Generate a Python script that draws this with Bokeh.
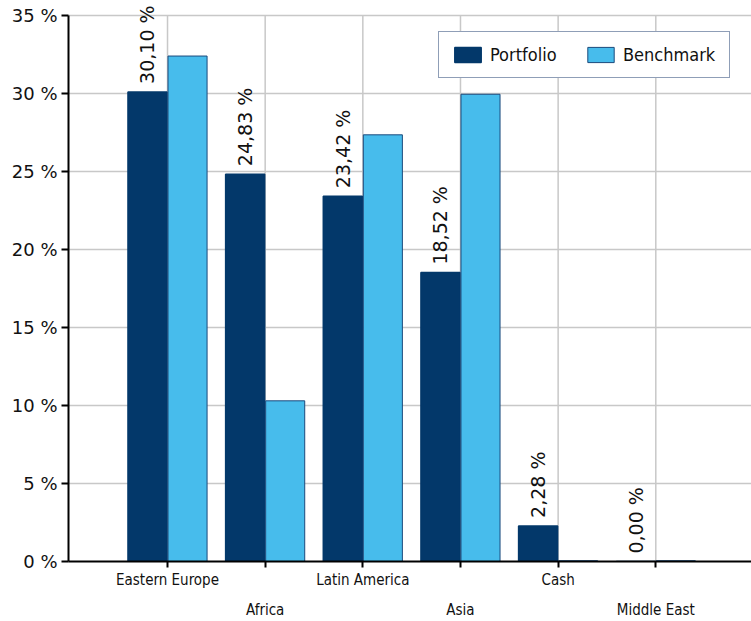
import math
from bokeh.plotting import figure
from bokeh.models import (ColumnDataSource, Range1d, FixedTicker, LinearAxis,
                          PrintfTickFormatter, LabelSet, Legend, LegendItem)
from bokeh.core.properties import value
from bokeh.transform import dodge
from bokeh.embed import file_html
from bokeh.resources import INLINE

categories = ["Eastern Europe", "Africa", "Latin America", "Asia", "Cash", "Middle East"]
portfolio = [30.10, 24.83, 23.42, 18.52, 2.28, 0.00]
benchmark = [32.4, 10.3, 27.35, 29.95, 0.05, 0.05]
y_ticks = [0, 5, 10, 15, 20, 25, 30, 35]

PORT_COLOR = "#03386A"
BENCH_COLOR = "#47BCEC"

xs = list(range(len(categories)))
labels = [("%.2f %%" % v).replace(".", ",") for v in portfolio]
src = ColumnDataSource(dict(x=xs, portfolio=portfolio, benchmark=benchmark, lbl=labels,
                            g0=[y_ticks[0]] * len(xs), g1=[y_ticks[-1]] * len(xs)))

y_top = y_ticks[-1] + 0.96
p = figure(width=751, height=621, output_backend="svg", toolbar_location=None,
           x_range=Range1d(-1.014, 5.98), y_range=Range1d(0, y_top),
           min_border_left=68, min_border_top=0, min_border_right=0,
           min_border_bottom=60)
p.outline_line_color = None
p.background_fill_color = "white"

# vertical grid lines at category centres, from 0 to top tick
p.segment(x0="x", x1="x", y0="g0", y1="g1", source=src,
          line_color="#c8c8c8", line_width=1.5, level="underlay")

r1 = p.vbar(x=dodge("x", -0.205, range=p.x_range), top="portfolio", width=0.40,
            source=src, fill_color=PORT_COLOR, line_color=PORT_COLOR, line_width=1.5)
r2 = p.vbar(x=dodge("x", 0.205, range=p.x_range), top="benchmark", width=0.40,
            source=src, fill_color=BENCH_COLOR, line_color="#1B4A7C", line_width=1)

ls = LabelSet(x=dodge("x", -0.205, range=p.x_range), y="portfolio", text="lbl", source=src,
              angle=math.pi / 2, y_offset=8, x_offset=0, text_align="left",
              text_baseline="middle", text_font=value("DejaVu Sans"),
              text_font_size=value("19px"), text_color="#111111")
p.add_layout(ls)

# y axis
p.yaxis.ticker = FixedTicker(ticks=y_ticks)
p.yaxis.bounds = (y_ticks[0], y_ticks[-1])
p.yaxis.formatter = PrintfTickFormatter(format="%d %%")
p.yaxis.major_label_text_font = "DejaVu Sans"
p.yaxis.major_label_text_font_size = "18px"
p.yaxis.major_label_text_color = "#111111"
p.yaxis.axis_line_width = 2
p.yaxis.axis_line_color = "black"
p.yaxis.major_tick_line_width = 2
p.yaxis.major_tick_out = 7
p.yaxis.major_tick_in = 0
p.yaxis.minor_tick_line_color = None
p.yaxis.major_label_standoff = 4

# x axis (row 1)
xa = p.xaxis[0]
xa.ticker = FixedTicker(ticks=xs)
xa.major_label_overrides = {i: (c if i % 2 == 0 else "") for i, c in enumerate(categories)}
xa.major_label_text_font = "DejaVu Sans Condensed"
xa.major_label_text_font_size = "15px"
xa.major_label_text_color = "#111111"
xa.axis_line_width = 2
xa.axis_line_color = "black"
xa.major_tick_line_width = 2
xa.major_tick_out = 6
xa.major_tick_in = 0
xa.minor_tick_line_color = None
xa.major_label_standoff = 3

# x axis (row 2)
xa2 = LinearAxis(ticker=FixedTicker(ticks=xs))
xa2.major_label_overrides = {i: (c if i % 2 == 1 else "") for i, c in enumerate(categories)}
xa2.major_label_text_font = "DejaVu Sans Condensed"
xa2.major_label_text_font_size = "15px"
xa2.major_label_text_color = "#111111"
xa2.axis_line_color = None
xa2.major_tick_line_color = None
xa2.minor_tick_line_color = None
xa2.major_label_standoff = 3
p.add_layout(xa2, "below")

p.xgrid.grid_line_color = None
p.ygrid.grid_line_color = "#c8c8c8"
p.ygrid.grid_line_width = 1.5

legend = Legend(items=[LegendItem(label="Portfolio", renderers=[r1]),
                       LegendItem(label="Benchmark", renderers=[r2])],
                orientation="horizontal", location=(370, 483),
                glyph_width=33, glyph_height=19, label_standoff=6, spacing=0,
                label_width=94, padding=12, margin=0,
                label_text_font="DejaVu Sans Condensed", label_text_font_size="18px",
                label_text_color="#111111",
                border_line_color="#1F3D70", border_line_width=1.5,
                background_fill_color="white", background_fill_alpha=1.0)
p.add_layout(legend)

open("out.html", "w").write(file_html(p, INLINE))
